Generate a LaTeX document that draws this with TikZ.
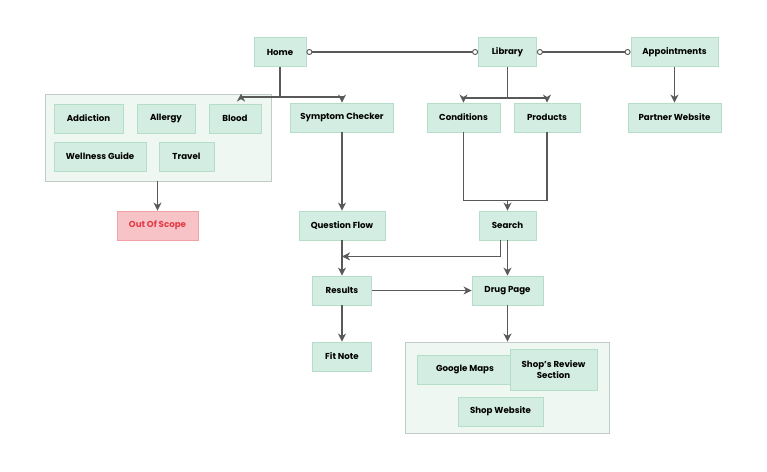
\documentclass[tikz,border=0pt]{standalone}
\usepackage{fontspec}
\setmainfont{Poppins}
\usetikzlibrary{arrows.meta,calc,positioning}
\definecolor{nodefill}{HTML}{D4EDE2}
\definecolor{nodeedge}{HTML}{B5DEC9}
\definecolor{grpfill}{HTML}{EFF7F3}
\definecolor{grpedge}{HTML}{C3CBC7}
\definecolor{linec}{HTML}{595959}
\definecolor{oosfill}{HTML}{F8C3C6}
\definecolor{oosedge}{HTML}{F0A2A7}
\definecolor{oostext}{HTML}{E23A46}
\tikzset{
  box/.style={draw=nodeedge, fill=nodefill, line width=0.6pt, minimum height=21.75pt, inner sep=1pt,
    font=\fontsize{6.5}{7.8}\selectfont\bfseries, text=black, align=center},
  wd/.style={minimum width=#1*0.75pt},
  ht/.style={minimum height=#1*0.75pt},
  grp/.style={draw=grpedge, fill=grpfill, line width=0.7pt},
  conn/.style={draw=linec, line width=1.2pt},
  arr/.style={conn, -{Stealth[length=6pt,width=6pt,inset=1.8pt]}},
  circ/.style={conn, {Circle[open,length=4.5pt,width=4.5pt,line width=0.7pt,fill=white]}-{Circle[open,length=4.5pt,width=4.5pt,line width=0.7pt,fill=white]}},
}
\begin{document}
\begin{tikzpicture}[x=0.75pt,y=-0.75pt]
\useasboundingbox (0,0) rectangle (767,471);
% groups
\node[grp, minimum width=226*0.75pt, minimum height=87*0.75pt] (gleft) at (158,137.5) {};
\node[grp, minimum width=204*0.75pt, minimum height=91*0.75pt] (gbot) at (507.5,387.5) {};
% top row
\node[box, wd=52] (home) at (280,52) {Home};
\node[box, wd=58] (lib) at (507.5,52) {Library};
\node[box, wd=87] (app) at (674.5,52) {Appointments};
% left group
\node[box, wd=69] (addi) at (88.5,118.5) {Addiction};
\node[box, wd=58] (alle) at (166,118.5) {Allergy};
\node[box, wd=52] (blood) at (235,118.5) {Blood};
\node[box, wd=92] (well) at (100,156.5) {Wellness Guide};
\node[box, wd=55] (trav) at (186.5,156.5) {Travel};
\node[box, wd=81, draw=oosedge, fill=oosfill, text=oostext] (oos) at (157.5,225.5) {Out Of Scope};
% second row
\node[box, wd=103] (symp) at (342,117.5) {Symptom Checker};
\node[box, wd=73] (cond) at (463.5,117.5) {Conditions};
\node[box, wd=66] (prod) at (547,117.5) {Products};
\node[box, wd=93] (part) at (674.5,117.5) {Partner Website};
% middle
\node[box, wd=86] (qf) at (342,225.5) {Question Flow};
\node[box, wd=57] (search) at (507.5,225.5) {Search};
\node[box, wd=59] (res) at (342,290.5) {Results};
\node[box, wd=71] (drug) at (507.5,290.5) {Drug Page};
\node[box, wd=59] (fit) at (342,356.5) {Fit Note};
% bottom group
\node[box, wd=96] (gmap) at (465,369.5) {Google Maps};
\node[box, wd=87, ht=41] (review) at (553.5,369.5) {Shop's Review\\Section};
\node[box, wd=85] (shopw) at (500.5,411.5) {Shop Website};
% connectors
\draw[circ] (home.east) -- (lib.west);
\draw[circ] (lib.east) -- (app.west);
\coordinate (hsplit) at ($(home.south)+(0,30)$);
\draw[conn] (home.south) -- (hsplit);
\draw[arr] (hsplit) -| ($(gleft.north)+(83,0)$);
\draw[arr] (hsplit) -| (symp.north);
\coordinate (lsplit) at ($(lib.south)+(0,31)$);
\draw[conn] (lib.south) -- (lsplit);
\draw[arr] (lsplit) -| (cond.north);
\draw[arr] (lsplit) -| (prod.north);
\draw[arr] (app.south) -- (part.north);
\draw[arr] (gleft.south -| oos.north) -- (oos.north);
\draw[arr] (symp.south) -- (qf.north);
\coordinate (cpjoin) at ($(cond.south)+(0,68)$);
\draw[conn] (cond.south) -- (cpjoin) -| (prod.south);
\draw[arr] (cpjoin -| search.north) -- (search.north);
\draw[arr] (qf.south) -- (res.north);
\coordinate (sleft) at ($(search.south)+(-7,0)$);
\coordinate (smeet) at ($(sleft)+(0,16)$);
\draw[arr] (sleft) -- (smeet) -- (smeet -| qf.south);
\draw[arr] (search.south) -- (drug.north);
\draw[arr] (res.east) -- (drug.west);
\draw[arr] (res.south) -- (fit.north);
\draw[arr] (drug.south) -- (gbot.north -| drug.south);
\end{tikzpicture}
\end{document}
